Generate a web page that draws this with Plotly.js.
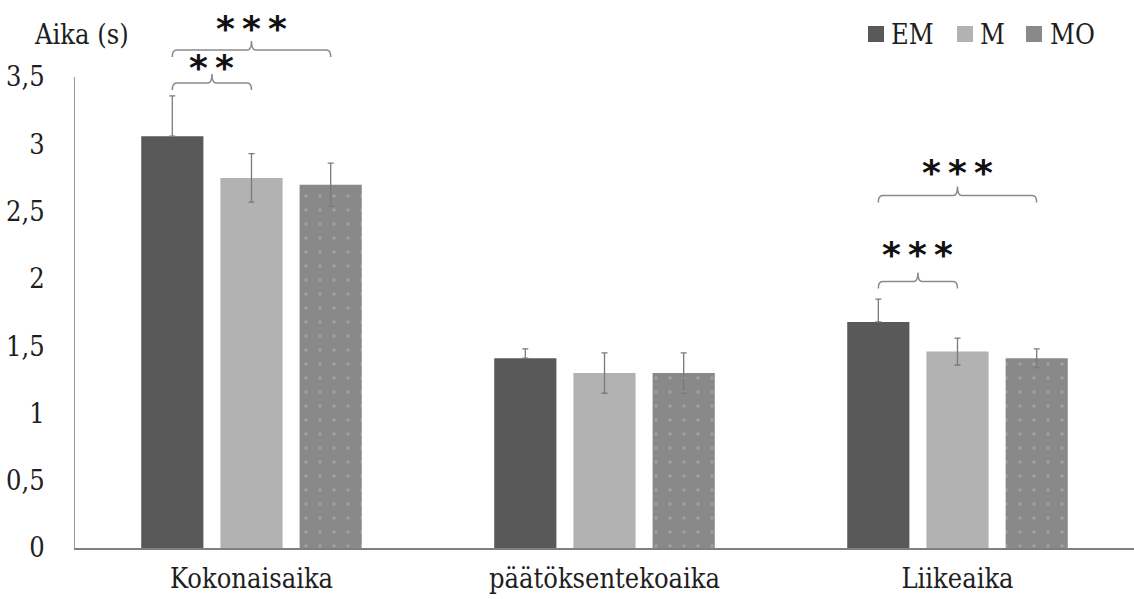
<!DOCTYPE html>
<html>
<head>
<meta charset="utf-8">
<script src="https://cdn.plot.ly/plotly-3.0.1.min.js"></script>
<style>
  html, body { margin: 0; padding: 0; background: #fff; }
  #chart { width: 1134px; height: 599px; }
</style>
</head>
<body>
<div id="chart"></div>
<script>
// Mean times (s) per phase for the three conditions, with error bars
const categories = ['Kokonaisaika', 'päätöksentekoaika', 'Liikeaika'];
const seriesNames = ['EM', 'M', 'MO'];
const emValues = [3.06, 1.41, 1.68];
const emErrors = [0.30, 0.07, 0.17];
const emErrorsMinus = [0, 0, 0];
const mValues = [2.75, 1.30, 1.46];
const mErrors = [0.18, 0.15, 0.10];
const moValues = [2.70, 1.30, 1.41];
const moErrors = [0.16, 0.15, 0.07];
const yTickValues = [0, 0.5, 1, 1.5, 2, 2.5, 3, 3.5];
const yTickLabels = ['0', '0,5', '1', '1,5', '2', '2,5', '3', '3,5'];

// Significance brackets: category index, from/to series index, level, bracket height (s), star height (s)
const sigCategory = [0, 0, 2, 2];
const sigFrom = [0, 0, 0, 0];
const sigTo = [2, 1, 2, 1];
const sigLabel = ['***', '**', '***', '***'];
const sigLineY = [3.70, 3.455, 2.62, 1.98];
const sigStarY = [3.86, 3.57, 2.79, 2.18];

const W = 1134, H = 599;
const M = { l: 75, r: 0, t: 77, b: 51 };
const Y_MAX = 3.5;
const BARGAP = 0.327;
const plotW = W - M.l - M.r, plotH = H - M.t - M.b;
const slot = (1 - BARGAP) / 3;
const px2paperX = px => (px - M.l) / plotW;
const px2paperY = py => (H - M.b - py) / plotH;

const colors = ['#595959', '#b2b2b2', '#898989'];
const serif = 'DejaVu Serif Condensed, DejaVu Serif';
const fontSize = 27;
const textColor = '#1e1e1e';

const valueSets = [emValues, mValues, moValues];
const errorSets = [emErrors, mErrors, moErrors];
const errorMinusSets = [emErrorsMinus, mErrors, moErrors];

const traces = seriesNames.map((name, i) => ({
  type: 'bar',
  name: name,
  x: categories,
  y: valueSets[i],
  marker: Object.assign({ color: colors[i], line: { width: 0 } },
    i === 2 ? { pattern: { shape: '.', fgcolor: '#a0a0a0', bgcolor: colors[i], size: 14, solidity: 0.05 } } : {}),
  error_y: {
    type: 'data',
    symmetric: false,
    array: errorSets[i],
    arrayminus: errorMinusSets[i],
    visible: true,
    color: '#7a7a7a',
    thickness: 1.3,
    width: 3
  },
  hoverinfo: 'y'
}));

const shapes = [];
const annotations = [];

// Curly significance brackets drawn above the bars
const dropPx = 7, tickPx = 9, curlX = 0.012;
for (let k = 0; k < sigCategory.length; k++) {
  const x1 = sigCategory[k] + (sigFrom[k] - 1) * slot;
  const x2 = sigCategory[k] + (sigTo[k] - 1) * slot;
  const xc = (x1 + x2) / 2;
  const yl = sigLineY[k] / Y_MAX;
  const d = dropPx / plotH, t = tickPx / plotH;
  const path =
    `M ${x1},${yl - d} Q ${x1},${yl} ${x1 + curlX},${yl} ` +
    `L ${xc - curlX},${yl} Q ${xc},${yl} ${xc},${yl + t} ` +
    `Q ${xc},${yl} ${xc + curlX},${yl} ` +
    `L ${x2 - curlX},${yl} Q ${x2},${yl} ${x2},${yl - d}`;
  shapes.push({
    type: 'path', xref: 'x', yref: 'paper', path: path,
    line: { color: '#8a8a8a', width: 1.5 }
  });
  annotations.push({
    xref: 'x', yref: 'paper', x: xc, y: sigStarY[k] / Y_MAX,
    text: sigLabel[k].split('').join('\u2009'),
    showarrow: false, xanchor: 'center', yanchor: 'middle',
    font: { family: 'DejaVu Sans', size: 36, color: '#111', weight: 'bold' }
  });
}

// Axis caption in the top-left corner
annotations.push({
  xref: 'paper', yref: 'paper', x: px2paperX(32), y: px2paperY(34),
  xanchor: 'left', yanchor: 'middle', showarrow: false,
  text: 'Aika (s)', font: { family: serif, size: fontSize, color: textColor }
});

// Legend: swatch + label per series
const legendSwatchX = [868, 957, 1026];
const legendTextX = [889, 978, 1048];
seriesNames.forEach((name, i) => {
  shapes.push({
    type: 'rect', xref: 'paper', yref: 'paper',
    x0: px2paperX(legendSwatchX[i]), x1: px2paperX(legendSwatchX[i] + 16),
    y0: px2paperY(42), y1: px2paperY(26),
    fillcolor: colors[i], line: { width: 0 }
  });
  annotations.push({
    xref: 'paper', yref: 'paper', x: px2paperX(legendTextX[i]), y: px2paperY(34),
    xanchor: 'left', yanchor: 'middle', showarrow: false,
    text: name, font: { family: serif, size: fontSize, color: textColor }
  });
});

const layout = {
  width: W, height: H,
  margin: M,
  paper_bgcolor: '#ffffff', plot_bgcolor: '#ffffff',
  barmode: 'group', bargap: BARGAP, bargroupgap: 0.215,
  showlegend: false,
  font: { family: serif, size: fontSize, color: textColor },
  xaxis: {
    type: 'category', range: [-0.5, 2.5],
    showline: true, linecolor: '#7f7f7f', linewidth: 1.5,
    ticks: '', showgrid: false, zeroline: false,
    ticklabelstandoff: 6,
    tickfont: { family: serif, size: fontSize, color: textColor }
  },
  yaxis: {
    range: [0, Y_MAX], tickvals: yTickValues, ticktext: yTickLabels,
    showline: true, linecolor: '#9a9a9a', linewidth: 1,
    ticks: '', showgrid: false, zeroline: false,
    ticklabelstandoff: 24,
    tickfont: { family: serif, size: fontSize, color: textColor }
  },
  shapes: shapes,
  annotations: annotations
};

Plotly.newPlot('chart', traces, layout, { displayModeBar: false, staticPlot: true });
</script>
</body>
</html>
